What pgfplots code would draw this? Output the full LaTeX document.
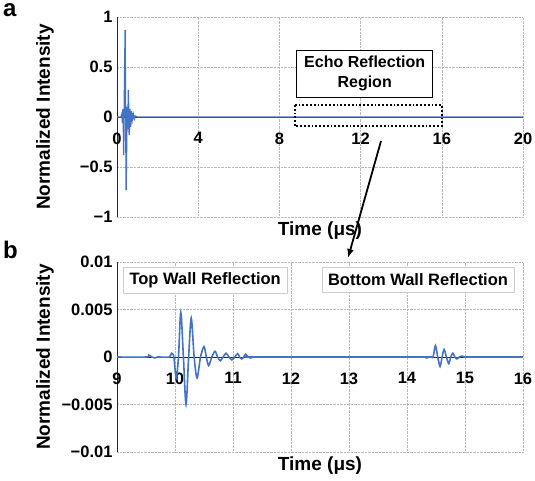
\documentclass[border=0pt]{standalone}
\usepackage{pgfplots}
\pgfplotsset{compat=1.18}
\usepackage{fontspec}
\setmainfont{Liberation Sans}
\usetikzlibrary{arrows.meta}
\definecolor{sigblue}{RGB}{68,114,196}
\pgfplotsset{
 myax/.style={
  scale only axis, width=406pt,
  axis x line=middle, axis y line=left,
  axis line style={-, black!85, line width=0.8pt},
  major tick length=0pt,
  grid=major, grid style={gray!55, densely dotted, line width=0.5pt},
  tick label style={font=\fontsize{16.5}{18}\selectfont\bfseries},
  /pgf/number format/assume math mode=true,
  hide obscured x ticks=false, hide obscured y ticks=false,
  every axis x label/.style={at={(axis description cs:0.5,0)}, anchor=north, yshift=-1pt, font=\fontsize{19}{21}\selectfont\bfseries},
  every axis y label/.style={at={(axis description cs:0,0.5)}, xshift=-72pt, rotate=90, anchor=center, font=\fontsize{19}{21}\selectfont\bfseries},
  xticklabel style={yshift=-12pt},
  yticklabel style={xshift=-1pt},
  scaled y ticks=false,
  clip=false,
 }}
\begin{document}
\begin{tikzpicture}
\path[use as bounding box] (0pt,0pt) rectangle (535pt,-480pt);
\begin{axis}[myax, at={(117pt,-217pt)}, anchor=south west, height=200pt,
  xmin=0, xmax=20, ymin=-1, ymax=1,
  xtick={0,4,8,12,16,20},
  ytick={-1,-0.5,0,0.5,1},
  yticklabels={−1,−0.5,0,0.5,1},
  xlabel={Time (μs)}, ylabel={Normalized Intensity}]
\addplot[sigblue, line width=1.3pt] coordinates {
(0,0) (0.2,0) (0.24,0.03) (0.27,-0.06) (0.30,0.08) (0.33,-0.38) (0.36,0.2)
(0.40,0.87) (0.45,-0.73) (0.50,0.1) (0.53,-0.12) (0.56,0.27) (0.60,-0.18)
(0.64,0.08) (0.67,-0.1) (0.71,0.06) (0.75,-0.03) (0.80,0.03) (0.85,-0.02)
(0.9,0.01) (1.0,0) (20,0)};
\node[draw, line width=0.8pt, align=center, font=\fontsize{16}{20}\selectfont\bfseries,
  minimum width=136pt, minimum height=47pt, inner sep=1pt, fill=white]
  at (axis cs:12.2,0.435) {Echo Reflection\\Region};
\draw[black, line width=1.8pt, dotted] (axis cs:8.75,0.12) rectangle (axis cs:16,-0.09);
\end{axis}
\begin{axis}[myax, at={(117pt,-452pt)}, anchor=south west, height=190pt,
  xmin=9, xmax=16, ymin=-0.01, ymax=0.01,
  xtick={9,...,16},
  ytick={-0.01,-0.005,0,0.005,0.01},
  yticklabels={−0.01,−0.005,0,0.005,0.01},
  xlabel={Time (μs)}, ylabel={Normalized Intensity}]
\addplot[sigblue, line width=1.6pt, smooth] coordinates {
(9,0) (9.5,0) (9.55,0.0002) (9.6,0) (9.65,-0.0001) (9.7,0) (9.9,0)
(9.94,0.0004) (9.98,0) (10.02,-0.0022) (10.06,0) (10.10,0.0047) (10.145,0)
(10.19,-0.0050) (10.235,0) (10.28,0.0041) (10.33,0) (10.38,-0.0022) (10.44,0)
(10.50,0.0011) (10.54,0) (10.58,-0.0009) (10.635,0) (10.69,0.0006) (10.735,0)
(10.78,-0.0004) (10.83,0) (10.88,0.0004) (10.93,0) (10.98,-0.0003) (11.03,0)
(11.08,0.00035) (11.115,0) (11.15,-0.0002) (11.185,0) (11.22,0.0003) (11.26,0)
(11.30,-0.0001) (11.35,0) (11.40,0) (14.25,0) (14.3,0) (14.34,-0.0001) (14.38,0)
(14.42,0) (14.45,0) (14.49,0.0012) (14.53,0) (14.57,-0.0010) (14.605,0)
(14.64,0.0008) (14.68,0) (14.72,-0.0007) (14.755,0) (14.79,0.0004) (14.825,0)
(14.86,-0.0002) (14.9,0) (14.94,0.0001) (15.0,0) (15.05,0) (16,0)};
\node[draw=gray!40, line width=0.8pt, font=\fontsize{16.5}{18}\selectfont\bfseries,
  minimum width=164pt, minimum height=26pt, inner sep=1pt, fill=white]
  at (axis cs:10.52,0.0081) {Top Wall Reflection};
\node[draw=gray!40, line width=0.8pt, font=\fontsize{16.5}{18}\selectfont\bfseries,
  minimum width=192pt, minimum height=25pt, inner sep=1pt, fill=white]
  at (axis cs:14.19,0.0081) {Bottom Wall Reflection};
\end{axis}
\draw[-{Latex[length=9pt,width=7pt]}, line width=1.8pt] (381pt,-141pt) -- (348pt,-258pt);
\node[font=\fontsize{24}{26}\selectfont\bfseries, inner sep=0pt, anchor=north west] at (3pt,-3pt) {a};
\node[font=\fontsize{24}{26}\selectfont\bfseries, inner sep=0pt, anchor=north west] at (3pt,-241pt) {b};
\end{tikzpicture}
\end{document}
